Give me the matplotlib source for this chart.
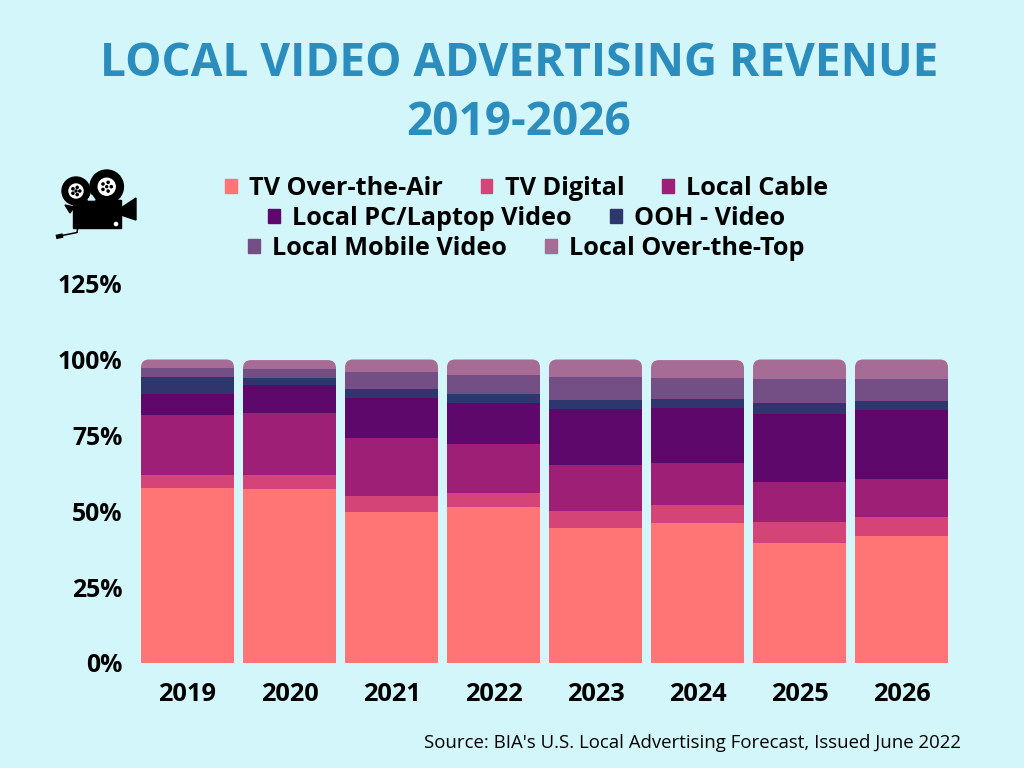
import numpy as np
import matplotlib
matplotlib.use("Agg")
import matplotlib.pyplot as plt
from matplotlib.patches import Patch, FancyBboxPatch, Circle, Rectangle, Polygon
from matplotlib.transforms import IdentityTransform

years = ["2019", "2020", "2021", "2022", "2023", "2024", "2025", "2026"]
series_names = ["TV Over-the-Air", "TV Digital", "Local Cable", "Local PC/Laptop Video",
                "OOH - Video", "Local Mobile Video", "Local Over-the-Top"]
tv_ota = [57.7, 57.3, 49.8, 51.4, 44.5, 46.1, 39.5, 41.8]
tv_digital = [4.2, 4.6, 5.2, 4.6, 5.6, 6.0, 7.0, 6.3]
local_cable = [19.8, 20.5, 19.1, 16.2, 15.1, 13.8, 13.1, 12.5]
local_pc = [6.9, 9.2, 13.2, 13.5, 18.5, 18.1, 22.4, 22.8]
ooh_video = [5.6, 2.3, 3.0, 2.9, 3.0, 3.0, 3.7, 2.9]
local_mobile = [3.0, 3.0, 5.6, 6.3, 7.5, 6.9, 7.9, 7.3]
local_ott = [2.8, 2.9, 4.1, 5.1, 5.8, 5.9, 6.4, 6.4]
all_series = [tv_ota, tv_digital, local_cable, local_pc, ooh_video, local_mobile, local_ott]
colors = ["#FF7575", "#D44476", "#9E2076", "#5E086B", "#2F366E", "#744F85", "#A66C96"]
y_ticks = [0, 25, 50, 75, 100, 125]

BG = "#D2F6F9"
TITLE = "#2B8CBE"
plt.rcParams["font.family"] = ["Open Sans", "DejaVu Sans"]

W, H = 1024, 768
fig = plt.figure(figsize=(W / 100, H / 100), dpi=100, facecolor=BG)
ax = fig.add_axes([136.5 / W, 1 - 663 / H, 816 / W, 379.4 / H], facecolor="none")
ax.set_xlim(-0.5, 7.5)
ax.set_ylim(0, 125)

x = np.arange(len(years))
bottom = np.zeros(len(years))
containers = []
for vals, c, name in zip(all_series, colors, series_names):
    containers.append(ax.bar(x, vals, width=0.912, bottom=bottom, color=c, label=name, linewidth=0))
    bottom = bottom + np.array(vals)

# rounded top corners: clip each stacked column to a rounded box
fig.canvas.draw()
for i in range(len(years)):
    (x0, y0) = ax.transData.transform((x[i] - 0.456, 0))
    (x1, y1) = ax.transData.transform((x[i] + 0.456, bottom[i]))
    clip = FancyBboxPatch((x0, y0 - 20), x1 - x0, y1 - y0 + 20,
                          boxstyle="round,pad=0,rounding_size=8",
                          transform=IdentityTransform())
    for cont in containers:
        cont[i].set_clip_path(clip)

for s in ax.spines.values():
    s.set_visible(False)
ax.set_xticks(x, years)
ax.set_yticks(y_ticks, [f"{t}%" for t in y_ticks])
ax.tick_params(length=0)
ax.tick_params(axis="x", pad=14, labelsize=18.3)
ax.tick_params(axis="y", pad=10, labelsize=17.8)
for lab in ax.get_xticklabels() + ax.get_yticklabels():
    lab.set_fontweight("bold")
    lab.set_color("black")

fig.text(519 / W, 1 - 63.5 / H, "LOCAL VIDEO ADVERTISING REVENUE", ha="center", va="center",
         fontsize=33.05, fontweight="bold", color=TITLE)
fig.text(519 / W, 1 - 122.5 / H, "2019-2026", ha="center", va="center",
         fontsize=33.05, fontweight="bold", color=TITLE)
fig.text(961 / W, 1 - 743 / H, "Source: BIA's U.S. Local Advertising Forecast, Issued June 2022",
         ha="right", va="center", fontsize=13.4, color="black")

handles = [Patch(color=c, label=n) for c, n in zip(colors, series_names)]
rows = [(handles[:3], 188.5), (handles[3:5], 218.5), (handles[5:], 248.5)]
for hs, yp in rows:
    leg = fig.legend(handles=hs, loc="center", bbox_to_anchor=(526.5 / W, 1 - yp / H),
                     ncol=len(hs), frameon=False, handlelength=0.47, handleheight=0.47,
                     handletextpad=0.48, columnspacing=1.5, borderpad=0,
                     prop={"size": 18.2, "weight": "bold"})
    leg.set_zorder(5)

# decorative movie camera icon, in pixel coordinates
ic = fig.add_axes([0, 0, 1, 1], facecolor="none")
ic.set_xlim(0, W)
ic.set_ylim(H, 0)
ic.axis("off")
k = "black"
ic.add_patch(Circle((106.7, 186.7), 16.7, color=k))
ic.add_patch(Circle((76, 191), 14, color=k))
ic.add_patch(Circle((106.7, 186.7), 8.5, color="white"))
ic.add_patch(Circle((76, 191), 7, color="white"))
for cx, cy, r in [(106.7, 186.7, 4.6), (76, 191, 3.8)]:
    ic.add_patch(Circle((cx, cy), 1, color=k))
    for a in np.deg2rad([0, 72, 144, 216, 288]):
        ic.add_patch(Circle((cx + r * np.cos(a), cy + r * np.sin(a)), 1.1, color=k))
ic.add_patch(Polygon([(88, 200), (95, 200), (91.5, 195)], color=BG, zorder=3))
ic.add_patch(Rectangle((72.7, 200), 48.3, 28, color=k))
ic.add_patch(Polygon([(121, 208), (136, 198), (136, 220), (121, 215)], color=k))
ic.add_patch(Polygon([(65, 205), (74, 207), (70, 213)], color=k))
ic.add_patch(Circle((116, 224), 1.6, color="white"))
ic.plot([77.7, 77, 62], [228, 232.5, 235.5], color=k, lw=1.1)
ic.plot([56, 63], [237, 235.5], color=k, lw=3.2, solid_capstyle="butt")

fig.savefig("out.png", dpi=100, facecolor=BG)
